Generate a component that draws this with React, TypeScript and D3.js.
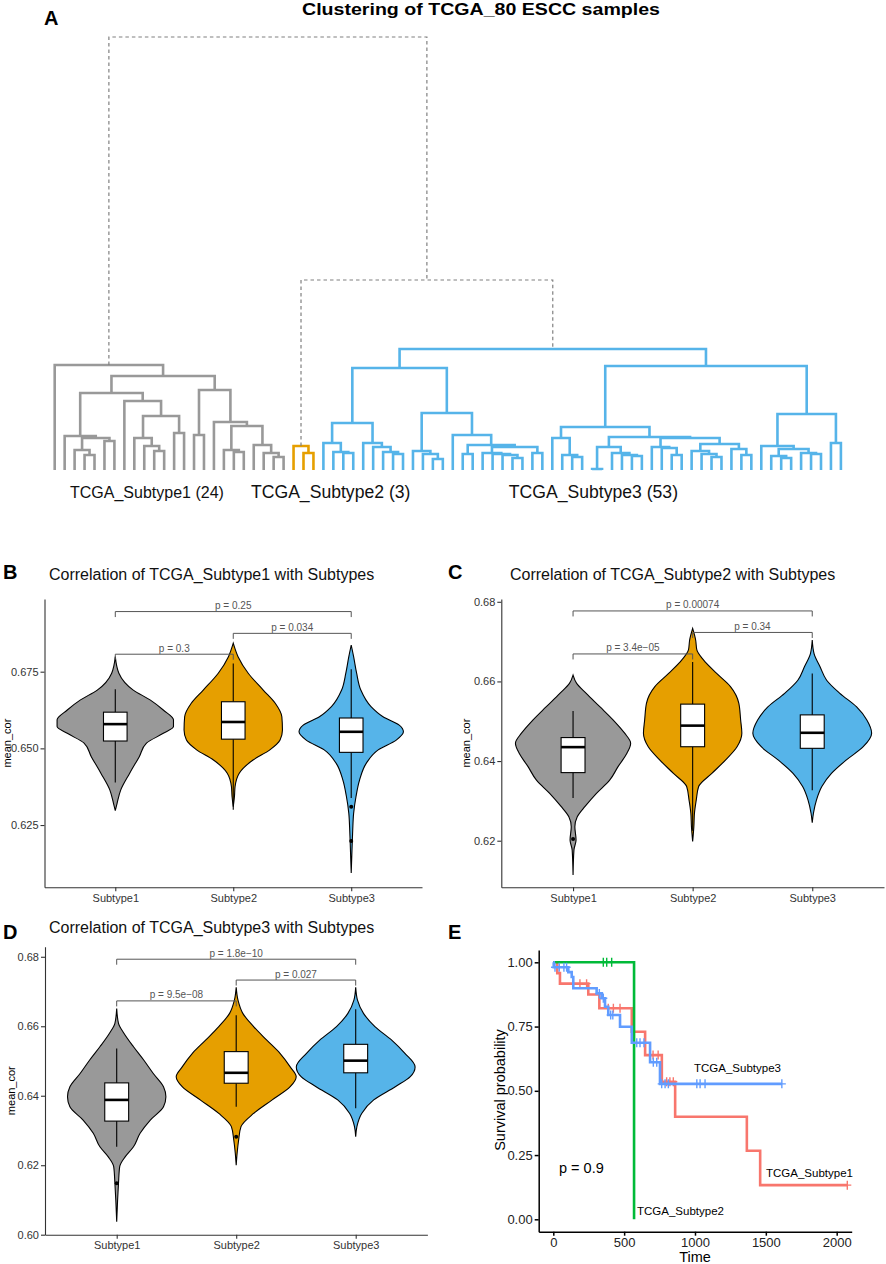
import React, { useRef, useEffect } from 'react';
import * as d3 from 'd3';

const FONT = '"Liberation Sans", Arial, Helvetica, sans-serif';

// ---------- A: clustering of 80 samples ----------
// tree strings: * = sample, (left,right)h = merge at height h
const subtype1Tree =
  '(*,(((*,((*,(*,*)15)20,(*,*)29)32)34,(*,((*,(*,(*,*)19)24)32,(*,*)37)54)69)77,' +
  '((*,*)35,(*,((*,(*,*)18)20,(*,(*,(*,*)13)17)25)44)48)80)94)105';
const subtype2Tree = '(*,(*,*)17)24';
const sub3A = '((*,(*,(*,*)17)18)27,(*,(*,(*,(*,*)16)18)23)27)47';
const sub3B = '((*,(*,(*,*)11)16)19,(*,((*,*)16,((*,(*,(*,(*,*)12)15)16)17,(*,*)17)23)25)35)57';
const sub3C =
  '((*,(*,(*,*)13)15)32,(((*,*)1,(*,(*,(*,*)14)15)17)23,((*,(*,(*,*)15)22)23,' +
  '((*,(*,(*,*)13)16)19,(*,(*,*)15)21)26)32)33)43';
const sub3D = '((*,((*,(*,*)12)14,(*,(*,*)16)17)21)24,(*,*)27)56';
const subtype3Tree = `((${sub3A},${sub3B})102,(${sub3C},${sub3D})104)121`;
const clusterTrees = [subtype1Tree, subtype2Tree, subtype3Tree];
const clusterLabels = ['TCGA_Subtype1 (24)', 'TCGA_Subtype2 (3)', 'TCGA_Subtype3 (53)'];
const upperMerges = [433, 190]; // Subtype1 vs rest, Subtype2 vs Subtype3

// ---------- B, C, D: violins ----------
const subtypes = ['Subtype1', 'Subtype2', 'Subtype3'];
const subtypeColors = ['#999999', '#E69F00', '#56B4E9'];

// outlines: [mean_cor, relative density]
const violinsB = [
  [[0.6799, 0], [0.6745, 0.06], [0.669, 0.3], [0.6658, 0.58], [0.6625, 0.8], [0.6593, 0.97], [0.6571, 0.97],
    [0.6549, 0.8], [0.6517, 0.52], [0.6473, 0.4], [0.6419, 0.24], [0.6364, 0.09], [0.6321, 0.03], [0.6297, 0]],
  [[0.6843, 0], [0.6799, 0.08], [0.6745, 0.25], [0.669, 0.5], [0.6647, 0.7], [0.6603, 0.81], [0.656, 0.82],
    [0.6527, 0.78], [0.6495, 0.61], [0.6462, 0.33], [0.6419, 0.1], [0.6375, 0.03], [0.6343, 0.02], [0.631, 0]],
  [[0.6837, 0], [0.6799, 0.04], [0.6745, 0.09], [0.669, 0.16], [0.6636, 0.33], [0.6603, 0.53], [0.6576, 0.8],
    [0.6554, 0.87], [0.6527, 0.75], [0.6495, 0.45], [0.6451, 0.25], [0.6397, 0.14], [0.6343, 0.08],
    [0.6288, 0.04], [0.6234, 0.025], [0.618, 0.015], [0.6094, 0]],
];
const boxesB = [ // [low whisker, q1, median, q3, high whisker]
  [0.6389, 0.6524, 0.6579, 0.6618, 0.6693],
  [0.63, 0.653, 0.6586, 0.6652, 0.6777],
  [0.6338, 0.6487, 0.6554, 0.6599, 0.6758],
];
const outliersB: [string, number][] = [['Subtype3', 0.631], ['Subtype3', 0.6198]];
const bracketsB: [string, string, number, string][] = [
  ['Subtype1', 'Subtype3', 0.6946, 'p = 0.25'],
  ['Subtype2', 'Subtype3', 0.6875, 'p = 0.034'],
  ['Subtype1', 'Subtype2', 0.6807, 'p = 0.3'],
];

const violinsC = [
  [[0.6616, 0], [0.6595, 0.06], [0.657, 0.22], [0.6536, 0.45], [0.6503, 0.67], [0.647, 0.86], [0.6445, 0.96],
    [0.642, 0.9], [0.6386, 0.75], [0.6352, 0.61], [0.6319, 0.39], [0.6286, 0.2], [0.626, 0.07], [0.6235, 0.03],
    [0.6202, 0.05], [0.6177, 0.015], [0.6114, 0]],
  [[0.6733, 0], [0.6704, 0.05], [0.6679, 0.07], [0.6654, 0.18], [0.662, 0.4], [0.6587, 0.63], [0.6545, 0.77],
    [0.6503, 0.8], [0.647, 0.82], [0.6436, 0.74], [0.6403, 0.55], [0.6369, 0.32], [0.6336, 0.1], [0.6302, 0.06],
    [0.6269, 0.03], [0.6235, 0.02], [0.6198, 0]],
  [[0.6704, 0], [0.667, 0.03], [0.6637, 0.13], [0.6603, 0.24], [0.657, 0.46], [0.6536, 0.74], [0.6503, 0.91],
    [0.647, 0.99], [0.6436, 0.85], [0.6403, 0.57], [0.6369, 0.32], [0.6336, 0.16], [0.6302, 0.07],
    [0.6269, 0.02], [0.6245, 0]],
];
const boxesC = [
  [0.6307, 0.6371, 0.6435, 0.6459, 0.6526],
  [0.6225, 0.6436, 0.6489, 0.6543, 0.6649],
  [0.6327, 0.6432, 0.6471, 0.6516, 0.662],
];
const outliersC: [string, number][] = [['Subtype1', 0.6204]];
const bracketsC: [string, string, number, string][] = [
  ['Subtype1', 'Subtype3', 0.6777, 'p = 0.00074'],
  ['Subtype2', 'Subtype3', 0.6723, 'p = 0.34'],
  ['Subtype1', 'Subtype2', 0.6669, 'p = 3.4e\u221205'],
];

const violinsD = [
  [[0.6651, 0], [0.6608, 0.03], [0.658, 0.12], [0.6541, 0.28], [0.6503, 0.45], [0.6464, 0.61], [0.6426, 0.78],
    [0.6397, 0.82], [0.6368, 0.78], [0.633, 0.56], [0.6292, 0.39], [0.6253, 0.28], [0.6224, 0.14],
    [0.6196, 0.05], [0.6148, 0.03], [0.61, 0.015], [0.6037, 0]],
  [[0.6712, 0], [0.6675, 0.03], [0.6637, 0.11], [0.6599, 0.29], [0.656, 0.51], [0.6522, 0.73], [0.6483, 0.9],
    [0.6455, 1.0], [0.6426, 0.9], [0.6388, 0.6], [0.6349, 0.29], [0.6311, 0.08], [0.6272, 0.04],
    [0.6234, 0.015], [0.62, 0]],
  [[0.6712, 0], [0.6675, 0.03], [0.6637, 0.13], [0.6599, 0.32], [0.656, 0.6], [0.6522, 0.82], [0.6483, 0.99],
    [0.6455, 0.91], [0.6426, 0.66], [0.6388, 0.3], [0.6349, 0.1], [0.6311, 0.02], [0.6282, 0]],
];
const boxesD = [
  [0.6253, 0.6327, 0.6388, 0.6437, 0.6536],
  [0.6368, 0.6436, 0.6466, 0.6527, 0.6632],
  [0.6364, 0.6466, 0.6501, 0.6548, 0.6649],
];
const outliersD: [string, number][] = [['Subtype1', 0.6148], ['Subtype2', 0.6282]];
const bracketsD: [string, string, number, string][] = [
  ['Subtype1', 'Subtype3', 0.6793, 'p = 1.8e\u221210'],
  ['Subtype2', 'Subtype3', 0.6733, 'p = 0.027'],
  ['Subtype1', 'Subtype2', 0.6673, 'p = 9.5e\u221208'],
];

// ---------- E: Kaplan-Meier ----------
const kmGroups = ['TCGA_Subtype1', 'TCGA_Subtype2', 'TCGA_Subtype3'];
const kmColors = ['#F8766D', '#00BA38', '#619CFF'];
const kmSubtype1 = [[0, 1], [28, 0.958], [47, 0.917], [247, 0.875], [325, 0.821], [554, 0.73], [648, 0.639],
  [766, 0.535], [860, 0.399], [1366, 0.267], [1460, 0.133], [2075, 0.133]];
const kmSubtype2 = [[0, 1], [570, 1], [570, 0]];
const kmSubtype3 = [[0, 1], [3, 0.981], [106, 0.962], [130, 0.943], [141, 0.899], [306, 0.879], [342, 0.86],
  [365, 0.827], [388, 0.795], [471, 0.749], [554, 0.687], [683, 0.611], [753, 0.527], [1613, 0.527]];
const censor1 = [[141, 0.917], [188, 0.917], [235, 0.917], [388, 0.821], [424, 0.821], [471, 0.821],
  [704, 0.639], [740, 0.639], [800, 0.535], [823, 0.535], [847, 0.535], [2075, 0.133]];
const censor2 = [[353, 1], [377, 1], [412, 1]];
const censor3 = [[12, 0.981], [42, 0.981], [75, 0.981], [94, 0.981], [325, 0.879], [353, 0.86], [405, 0.795],
  [420, 0.795], [589, 0.687], [612, 0.687], [640, 0.687], [706, 0.611], [730, 0.611], [765, 0.527],
  [789, 0.527], [812, 0.527], [1013, 0.527], [1036, 0.527], [1071, 0.527], [1613, 0.527]];
const kmTimeTicks = [0, 500, 1000, 1500, 2000];
const kmSurvTicks = [0, 0.25, 0.5, 0.75, 1];
const kmPValue = 'p = 0.9';

type DNode = { h: number; children?: DNode[] };

function parseTree(s: string): DNode {
  let i = 0;
  const read = (): DNode => {
    if (s[i] === '*') { i += 1; return { h: 0 }; }
    i += 1; // (
    const left = read();
    i += 1; // ,
    const right = read();
    i += 1; // )
    const m = /^[0-9.]+/.exec(s.slice(i));
    i += m ? m[0].length : 0;
    return { h: m ? +m[0] : 0, children: [left, right] };
  };
  return read();
}

type Sel = d3.Selection<SVGSVGElement, unknown, null, undefined>;

function drawDendrogram(svg: Sel) {
  const g = svg.append('g');
  const leafX = d3.scaleLinear().domain([0, 79]).range([54.7, 840.9]);
  const hY = d3.scaleLinear().domain([0, 433]).range([470, 37]);

  let leafIdx = 0;
  const roots = clusterTrees.map(s => {
    const root: any = d3.hierarchy(parseTree(s));
    root.leaves().forEach((l: any) => { l.px = leafX(leafIdx++); });
    root.eachAfter((n: any) => { if (n.children) n.px = d3.mean(n.children, (c: any) => c.px); });
    return root;
  });

  roots.forEach((root, ci) => {
    g.append('g')
      .selectAll('path')
      .data(root.descendants().filter((n: any) => n.children))
      .join('path')
      .attr('d', (n: any) => {
        const [a, b] = n.children;
        return `M${a.px},${hY(a.data.h)}V${hY(n.data.h)}H${b.px}V${hY(b.data.h)}`;
      })
      .attr('fill', 'none')
      .attr('stroke', subtypeColors[ci])
      .attr('stroke-width', 2.6);
  });

  // upper merges drawn dashed
  const [r1, r2, r3] = roots;
  const midX = (r2.px + r3.px) / 2;
  g.append('path')
    .attr('d', `M${r1.px},${hY(r1.data.h)}V${hY(upperMerges[0])}H${midX}V${hY(upperMerges[1])}`)
    .attr('fill', 'none').attr('stroke', '#808080').attr('stroke-width', 1.2).attr('stroke-dasharray', '3.5,3');
  g.append('path')
    .attr('d', `M${r2.px},${hY(r2.data.h)}V${hY(upperMerges[1])}H${r3.px}V${hY(r3.data.h)}`)
    .attr('fill', 'none').attr('stroke', '#808080').attr('stroke-width', 1.2).attr('stroke-dasharray', '3.5,3');

  const labelPos = [
    { x: 70, anchor: 'start', size: 16 },
    { x: 251, anchor: 'start', size: 17.6 },
    { x: 678, anchor: 'end', size: 17.6 },
  ];
  clusterLabels.forEach((t, i) => {
    g.append('text')
      .attr('x', labelPos[i].x).attr('y', 498)
      .attr('text-anchor', labelPos[i].anchor)
      .attr('font-family', FONT).attr('font-size', labelPos[i].size)
      .attr('fill', '#111')
      .text(t);
  });

  g.append('text')
    .attr('x', 302).attr('y', 15)
    .attr('font-family', FONT).attr('font-size', 17).attr('font-weight', 'bold')
    .attr('textLength', 358).attr('lengthAdjust', 'spacingAndGlyphs')
    .text('Clustering of TCGA_80 ESCC samples');
  g.append('text')
    .attr('x', 44).attr('y', 25)
    .attr('font-family', FONT).attr('font-size', 20).attr('font-weight', 'bold')
    .text('A');
}

interface ViolinPanel {
  letter: string; letterX: number; letterY: number;
  title: string; titleX: number; titleY: number;
  left: number; right: number; top: number; bottom: number; axisTitleX: number;
  domain: [number, number]; ticks: number[]; fmt: string;
  violins: number[][][]; boxes: number[][];
  outliers: [string, number][]; brackets: [string, string, number, string][];
}

function drawViolins(svg: Sel, p: ViolinPanel) {
  const g = svg.append('g');
  const x = d3.scalePoint<string>().domain(subtypes).range([p.left, p.right]).padding(0.6);
  const y = d3.scaleLinear().domain(p.domain).range([p.bottom, p.top]);
  const wMax = 60;
  const bw = x.step() * 0.1;

  p.violins.forEach((v, i) => {
    const cx = x(subtypes[i])!;
    const area = d3.area<number[]>()
      .curve(d3.curveMonotoneY)
      .y(d => y(d[0]))
      .x0(d => cx - d[1] * wMax)
      .x1(d => cx + d[1] * wMax);
    g.append('path')
      .attr('d', area(v))
      .attr('fill', subtypeColors[i])
      .attr('stroke', '#000')
      .attr('stroke-width', 1.1);
  });

  p.boxes.forEach((b, i) => {
    const cx = x(subtypes[i])!;
    const [lo, q1, med, q3, hi] = b;
    g.append('line').attr('x1', cx).attr('x2', cx).attr('y1', y(hi)).attr('y2', y(q3))
      .attr('stroke', '#000').attr('stroke-width', 1.1);
    g.append('line').attr('x1', cx).attr('x2', cx).attr('y1', y(q1)).attr('y2', y(lo))
      .attr('stroke', '#000').attr('stroke-width', 1.1);
    g.append('rect')
      .attr('x', cx - bw).attr('width', bw * 2)
      .attr('y', y(q3)).attr('height', y(q1) - y(q3))
      .attr('fill', '#fff').attr('stroke', '#000').attr('stroke-width', 1.1);
    g.append('line').attr('x1', cx - bw).attr('x2', cx + bw).attr('y1', y(med)).attr('y2', y(med))
      .attr('stroke', '#000').attr('stroke-width', 2.6);
  });

  g.selectAll('.outlier')
    .data(p.outliers)
    .join('circle')
    .attr('class', 'outlier')
    .attr('cx', d => x(d[0])!)
    .attr('cy', d => y(d[1]))
    .attr('r', 2)
    .attr('fill', '#000');

  p.brackets.forEach(([a, b, yv, label]) => {
    const xa = x(a)!, xb = x(b)!, yy = y(yv);
    g.append('path')
      .attr('d', `M${xa},${yy + 5.5}V${yy}H${xb}V${yy + 5.5}`)
      .attr('fill', 'none').attr('stroke', '#555').attr('stroke-width', 1);
    g.append('text')
      .attr('x', (xa + xb) / 2).attr('y', yy - 2.5)
      .attr('text-anchor', 'middle')
      .attr('font-family', FONT).attr('font-size', 10).attr('fill', '#555')
      .text(label);
  });

  const yAxis = g.append('g')
    .attr('transform', `translate(${p.left},0)`)
    .call(d3.axisLeft(y).tickValues(p.ticks).tickFormat(d3.format(p.fmt) as any)
      .tickSize(4).tickPadding(2).tickSizeOuter(0));
  const xAxis = g.append('g')
    .attr('transform', `translate(0,${p.bottom})`)
    .call(d3.axisBottom(x).tickSize(4).tickPadding(3).tickSizeOuter(0));
  [yAxis, xAxis].forEach(ax => {
    ax.attr('font-family', FONT).attr('font-size', 11);
    ax.selectAll('path, line').attr('stroke', '#333').attr('stroke-width', 1.1);
    ax.selectAll('text').attr('fill', '#333');
  });

  g.append('text')
    .attr('transform', `translate(${p.axisTitleX},${(p.top + p.bottom) / 2}) rotate(-90)`)
    .attr('text-anchor', 'middle')
    .attr('font-family', FONT).attr('font-size', 11)
    .text('mean_cor');

  g.append('text')
    .attr('x', p.titleX).attr('y', p.titleY)
    .attr('font-family', FONT).attr('font-size', 16).attr('fill', '#111')
    .text(p.title);
  g.append('text')
    .attr('x', p.letterX).attr('y', p.letterY)
    .attr('font-family', FONT).attr('font-size', 20).attr('font-weight', 'bold')
    .text(p.letter);
}

function drawSurvival(svg: Sel) {
  const g = svg.append('g');
  const x = d3.scaleLinear().domain([-103, 2106]).range([538.7, 851.7]);
  const y = d3.scaleLinear().domain([-0.0482, 1.0479]).range([1231.7, 950]);

  const line = d3.line<number[]>()
    .curve(d3.curveStepAfter)
    .x(d => x(d[0]))
    .y(d => y(d[1]));

  const curves = [kmSubtype1, kmSubtype2, kmSubtype3];
  const censors = [censor1, censor2, censor3];
  curves.forEach((c, i) => {
    g.append('path')
      .attr('d', line(c))
      .attr('fill', 'none')
      .attr('stroke', kmColors[i])
      .attr('stroke-width', 2.6);
    g.append('g')
      .selectAll('path')
      .data(censors[i])
      .join('path')
      .attr('d', d => {
        const cx = x(d[0]), cy = y(d[1]);
        return `M${cx - 4},${cy}H${cx + 4}M${cx},${cy - 4.5}V${cy + 4.5}`;
      })
      .attr('stroke', kmColors[i])
      .attr('stroke-width', 1.4);
  });

  const yAxis = g.append('g')
    .attr('transform', 'translate(538.7,0)')
    .call(d3.axisLeft(y).tickValues(kmSurvTicks).tickFormat(d3.format('.2f') as any)
      .tickSize(4).tickPadding(2).tickSizeOuter(0));
  const xAxis = g.append('g')
    .attr('transform', 'translate(0,1231.7)')
    .call(d3.axisBottom(x).tickValues(kmTimeTicks).tickFormat(d3.format('d') as any)
      .tickSize(4).tickPadding(2).tickSizeOuter(0));
  [yAxis, xAxis].forEach(ax => {
    ax.attr('font-family', FONT).attr('font-size', 13);
    ax.selectAll('path, line').attr('stroke', '#000').attr('stroke-width', 1.5);
    ax.selectAll('text').attr('fill', '#222');
  });

  g.append('text')
    .attr('transform', 'translate(505,1090) rotate(-90)')
    .attr('text-anchor', 'middle')
    .attr('font-family', FONT).attr('font-size', 14.5)
    .text('Survival probability');
  g.append('text')
    .attr('x', 695).attr('y', 1262)
    .attr('text-anchor', 'middle')
    .attr('font-family', FONT).attr('font-size', 14.5)
    .text('Time');
  g.append('text')
    .attr('x', 559).attr('y', 1173)
    .attr('font-family', FONT).attr('font-size', 14.5)
    .text(kmPValue);

  const labelPos = [[766, 1177], [637, 1215], [694, 1072]];
  kmGroups.forEach((t, i) => {
    g.append('text')
      .attr('x', labelPos[i][0]).attr('y', labelPos[i][1])
      .attr('font-family', FONT).attr('font-size', 11.5)
      .text(t);
  });

  g.append('text')
    .attr('x', 448).attr('y', 939)
    .attr('font-family', FONT).attr('font-size', 20).attr('font-weight', 'bold')
    .text('E');
}

const App: React.FC = () => {
  const svgRef = useRef<SVGSVGElement>(null);

  useEffect(() => {
    const svg = d3.select(svgRef.current!) as Sel;
    svg.selectAll('*').remove();
    svg.append('rect').attr('width', 886).attr('height', 1264).attr('fill', '#fff');

    drawDendrogram(svg);

    drawViolins(svg, {
      letter: 'B', letterX: 3, letterY: 579, title: 'Correlation of TCGA_Subtype1 with Subtypes', titleX: 49, titleY: 580,
      left: 44.5, right: 422, top: 599, bottom: 887.3, axisTitleX: 11,
      domain: [0.6047, 0.6987], ticks: [0.625, 0.65, 0.675], fmt: '.3f',
      violins: violinsB, boxes: boxesB, outliers: outliersB, brackets: bracketsB,
    });
    drawViolins(svg, {
      letter: 'C', letterX: 448, letterY: 579, title: 'Correlation of TCGA_Subtype2 with Subtypes', titleX: 510, titleY: 580,
      left: 501.3, right: 884, top: 599, bottom: 887.3, axisTitleX: 470,
      domain: [0.6083, 0.6807], ticks: [0.62, 0.64, 0.66, 0.68], fmt: '.2f',
      violins: violinsC, boxes: boxesC, outliers: outliersC, brackets: bracketsC,
    });
    drawViolins(svg, {
      letter: 'D', letterX: 3, letterY: 939, title: 'Correlation of TCGA_Subtype3 with Subtypes', titleX: 49, titleY: 933,
      left: 45, right: 427.4, top: 946.7, bottom: 1234.7, axisTitleX: 15,
      domain: [0.6, 0.6829], ticks: [0.6, 0.62, 0.64, 0.66, 0.68], fmt: '.2f',
      violins: violinsD, boxes: boxesD, outliers: outliersD, brackets: bracketsD,
    });

    drawSurvival(svg);
  }, []);

  return (
    <svg
      ref={svgRef}
      width={886}
      height={1264}
      style={{ position: 'absolute', left: 0, top: 0, display: 'block' }}
    />
  );
};

export default App;
